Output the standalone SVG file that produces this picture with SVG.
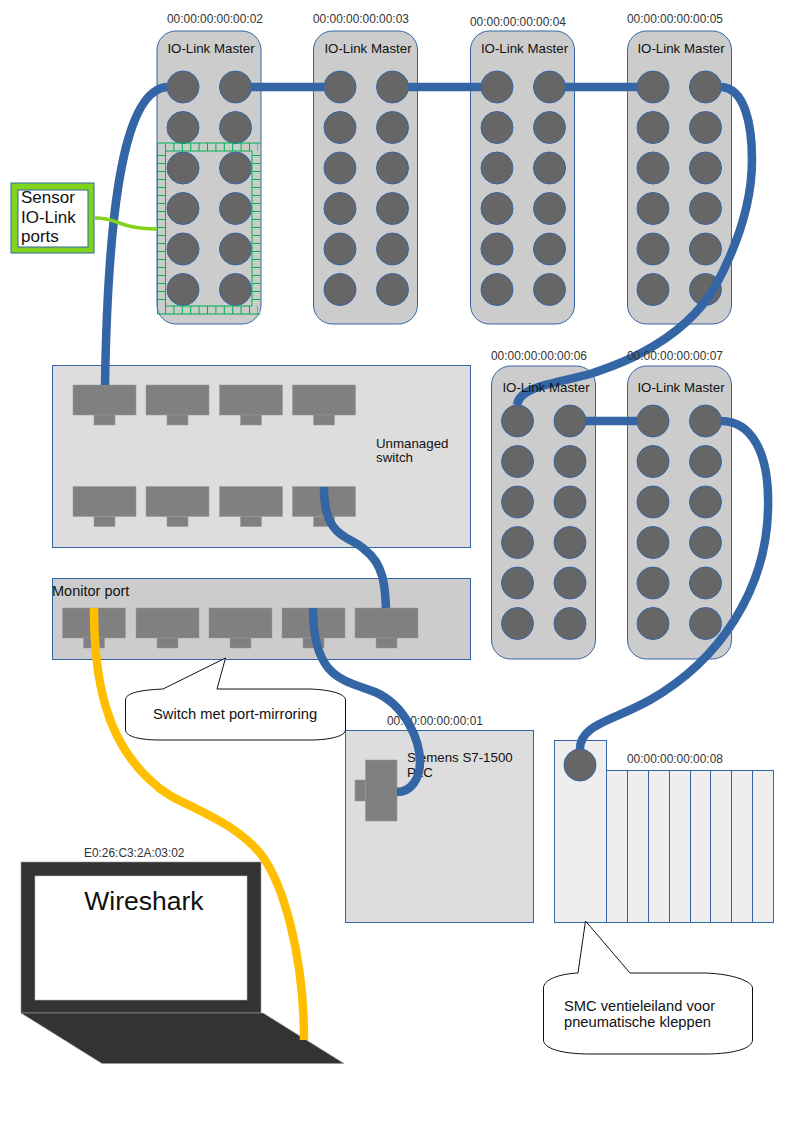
<svg xmlns="http://www.w3.org/2000/svg" xmlns:xlink="http://www.w3.org/1999/xlink" width="794" height="1123" viewBox="0 0 794 1123">
<style>
text{font-family:"Liberation Sans",Arial,sans-serif;fill:#111}
.mac{font-size:11.900px;fill:#333}
.t13{font-size:13.300px}
.t14{font-size:14.700px}
.body{fill:#ccc;stroke:#3465a4;stroke-width:1}
.jack{fill:#666;stroke:#3465a4;stroke-width:1}
.port{fill:#808080;stroke:#999;stroke-width:.5}
.box{fill:#ddd;stroke:#3465a4;stroke-width:1}
.mon{fill:#ccc;stroke:#3465a4;stroke-width:1}
.slice{fill:#eee;stroke:#3465a4;stroke-width:1}
.cable{fill:none;stroke:#3465a4;stroke-width:8.500}
.call{fill:#fff;stroke:#111;stroke-width:1}
.lap{fill:#333;stroke:#999;stroke-width:.6}
.tick{fill:none;stroke:#00b050;stroke-width:8}
</style>
<defs>
<rect id="master" class="body" x="0.500" y="0.500" width="104" height="293" rx="19" ry="19"/>
<g id="jacks">
<circle class="jack" cx="26" cy="56" r="16"/><circle class="jack" cx="78.500" cy="56" r="16"/>
<circle class="jack" cx="26" cy="96.500" r="16"/><circle class="jack" cx="78.500" cy="96.500" r="16"/>
<circle class="jack" cx="26" cy="137" r="16"/><circle class="jack" cx="78.500" cy="137" r="16"/>
<circle class="jack" cx="26" cy="177.500" r="16"/><circle class="jack" cx="78.500" cy="177.500" r="16"/>
<circle class="jack" cx="26" cy="218" r="16"/><circle class="jack" cx="78.500" cy="218" r="16"/>
<circle class="jack" cx="26" cy="258.500" r="16"/><circle class="jack" cx="78.500" cy="258.500" r="16"/>
</g>
<g id="rj"><rect class="port" x="0" y="0" width="63" height="30"/><rect class="port" x="21" y="30" width="21" height="10"/></g>
<pattern id="diag" width="8.400" height="8.100" patternUnits="userSpaceOnUse" x="157.500" y="143">
<path d="M0 8.100L8.400 0" stroke="#a8e4b0" stroke-width=".9" fill="none"/>
</pattern>
</defs>

<g id="master-02"><use href="#master" x="156.500" y="30.500"/><text class="t13" x="211" y="53" text-anchor="middle">IO-Link Master</text><text class="mac" x="167" y="23">00:00:00:00:00:02</text><use href="#jacks" x="157" y="31"/></g>
<g id="master-03"><use href="#master" x="313" y="30.500"/><text class="t13" x="368" y="53" text-anchor="middle">IO-Link Master</text><text class="mac" x="313" y="23">00:00:00:00:00:03</text><use href="#jacks" x="314" y="31"/></g>
<g id="master-04"><use href="#master" x="470" y="30.500"/><text class="t13" x="524.500" y="53" text-anchor="middle">IO-Link Master</text><text class="mac" x="470" y="26">00:00:00:00:00:04</text><use href="#jacks" x="471" y="31"/></g>
<g id="master-05"><use href="#master" x="627" y="30.500"/><text class="t13" x="681" y="53" text-anchor="middle">IO-Link Master</text><text class="mac" x="627" y="23">00:00:00:00:00:05</text><use href="#jacks" x="627" y="31"/></g>
<g id="master-06"><use href="#master" x="491" y="365.500"/><text class="mac" x="491" y="360">00:00:00:00:00:06</text><use href="#jacks" x="491.500" y="365"/></g>
<g id="master-07"><use href="#master" x="627" y="365.500"/><use href="#jacks" x="627" y="365"/></g>

<g id="sensor-zone">
<g stroke="none" fill="url(#diag)">
<rect x="157.500" y="143" width="103" height="8"/>
<rect x="157.500" y="306" width="103" height="8"/>
<rect x="157.500" y="151" width="8" height="155"/>
<rect x="252" y="151" width="8.500" height="155"/>
</g>
<path class="tick" stroke-dasharray="1 7.400" d="M165 147H258M165 310H258"/>
<path class="tick" stroke-dasharray="1 7" d="M161.500 155V306M256.500 155V306"/>
<path d="M157.500 143H260.500M157.500 143V314M165.500 151V306H252V151ZM157.500 314H260.500" fill="none" stroke="#00b050" stroke-width="1"/>
</g>

<g id="switch">
<rect class="box" x="52.500" y="365.500" width="418" height="182"/>
<use href="#rj" x="73" y="385"/><use href="#rj" x="146" y="385"/><use href="#rj" x="219.500" y="385"/><use href="#rj" x="292.500" y="385"/>
<use href="#rj" x="73" y="486.500"/><use href="#rj" x="146" y="486.500"/><use href="#rj" x="219.500" y="486.500"/><use href="#rj" x="292.500" y="486.500"/>
<text class="t13" x="376" y="448">Unmanaged</text><text class="t13" x="376" y="462">switch</text>
</g>
<g id="mirror-switch">
<rect class="mon" x="52.500" y="578.500" width="418" height="81"/>
<use href="#rj" x="62.500" y="608"/><use href="#rj" x="136" y="608"/><use href="#rj" x="209" y="608"/><use href="#rj" x="282" y="608"/><use href="#rj" x="355" y="608"/>
<text style="font-size:14.500px" x="52" y="596">Monitor port</text>
</g>
<g id="plc">
<rect class="box" x="345.500" y="730.500" width="188" height="192"/>
<rect class="port" x="365.500" y="760" width="31.500" height="61"/><rect class="port" x="355" y="780" width="10.500" height="21"/>
<text class="t13" x="407" y="762">Siemens S7-1500</text><text class="t13" x="407" y="777">PLC</text>
<text class="mac" x="387" y="725">00:00:00:00:00:01</text>
</g>
<g id="valve-island">
<rect class="slice" x="554.500" y="740.500" width="52" height="182"/>
<rect class="slice" x="606.500" y="770.500" width="21" height="152"/><rect class="slice" x="627.500" y="770.500" width="21" height="152"/><rect class="slice" x="648.500" y="770.500" width="21" height="152"/><rect class="slice" x="669.500" y="770.500" width="21" height="152"/><rect class="slice" x="690.500" y="770.500" width="20" height="152"/><rect class="slice" x="710.500" y="770.500" width="21" height="152"/><rect class="slice" x="731.500" y="770.500" width="21" height="152"/><rect class="slice" x="752.500" y="770.500" width="21" height="152"/>
<circle class="jack" cx="580" cy="765" r="16"/>
<text class="mac" x="627" y="763">00:00:00:00:00:08</text>
</g>
<g id="laptop">
<rect class="lap" x="21" y="862" width="240" height="151"/>
<rect x="35" y="876" width="212" height="124" fill="#fff" stroke="#bbb" stroke-width=".6"/>
<path class="lap" d="M21 1013H263L344 1063.500H102Z"/>
<text x="144" y="910" font-size="26.500" text-anchor="middle">Wireshark</text>
<text class="mac" x="84" y="857">E0:26:C3:2A:03:02</text>
</g>
<g id="sensor-label">
<rect x="11" y="183" width="83" height="70" fill="#81d41a" stroke="#3465a4"/>
<rect x="18" y="190" width="70" height="57" fill="#fff" stroke="#3465a4"/>
<text font-size="17" x="21" y="203">Sensor</text><text font-size="17" x="21" y="223">IO-Link</text><text font-size="17" x="21" y="242">ports</text>
</g>
<g id="callout-switch">
<path class="call" d="M163 689L225.500 658L217 689L310 689C335 690 345.500 695 345.500 700L345.500 730C345.500 736 330 740 310 740L160 740C135 740 125.500 735 125.500 730L125.500 700C125.500 693 140 690 163 689Z"/>
<text class="t14" x="153" y="719">Switch met port-mirroring</text>
</g>
<g id="callout-valve">
<path class="call" d="M578 973L585.500 921L630 973L705 973C735 974 752.500 982 752.500 988L752.500 1040C752.500 1048 735 1054 705 1054L590 1054C560 1054 543.500 1048 543.500 1040L543.500 988C543.500 980 558 974 578 973Z"/>
<text class="t14" x="564" y="1011">SMC ventieleiland voor</text><text class="t14" x="564" y="1027">pneumatische kleppen</text>
</g>

<g id="connectors">
<path class="cable" d="M167 87C125 90 108 200 105 385"/>
<path class="cable" d="M251 87H324M408 87H481M565 87H637M585 421H637"/>
<path class="cable" d="M721 87C745 88 752 125 752 160C752 205 735 250 715 287C700 312 675 335 643 352C620 365 600 370 593 373C560 383 520 385 517 405"/>
<path class="cable" d="M721 421C750 421 770 450 768 510C766 590 720 660 650 700C610 722 580 725 580 749"/>
<path class="cable" d="M324 487C324 540 350 535 365 550C385 565 385 590 386 608"/>
<path class="cable" d="M313 608C313 680 345 680 375 692C405 705 420 740 420 762C420 780 410 792 397 792"/>
<path d="M94 608C94 680 106 740 150 780C165 795 180 801 193 807C215 818 240 830 260 853C285 885 304 960 304 1040" fill="none" stroke="#ffbf00" stroke-width="8.500"/>
<path d="M95 218C120 218 115 228 157 229" fill="none" stroke="#81d41a" stroke-width="3.500"/>
</g>

<g id="labels-top">
<text class="t13" x="546" y="392" text-anchor="middle">IO-Link Master</text>
<text class="t13" x="681" y="392" text-anchor="middle">IO-Link Master</text>
<text class="mac" x="627" y="360">00:00:00:00:00:07</text>
</g>
</svg>
